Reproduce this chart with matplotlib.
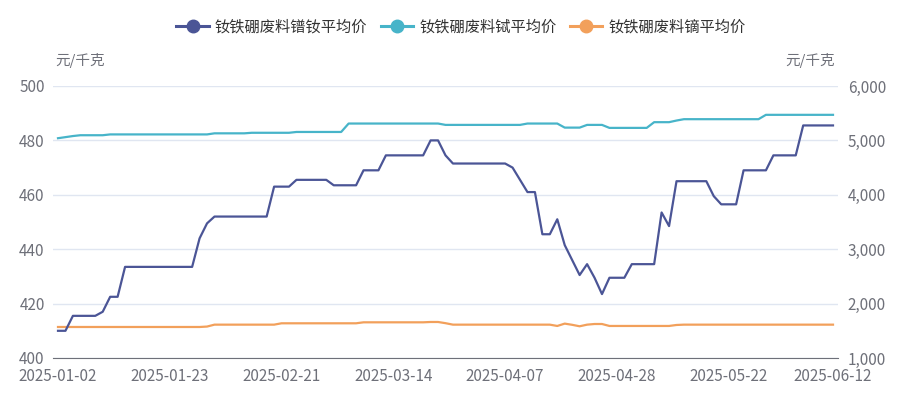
import pandas as pd
import matplotlib
matplotlib.use("Agg")
import matplotlib.pyplot as plt
from matplotlib.ticker import FuncFormatter, FixedLocator

plt.rcParams['font.family'] = ['Noto Sans CJK SC', 'DejaVu Sans']

# trading days 2025-01-02 .. 2025-06-12 (weekday holidays removed)
holidays = ["2025-01-28", "2025-01-29", "2025-01-30", "2025-01-31", "2025-02-03",
            "2025-02-04", "2025-04-04", "2025-05-01", "2025-05-02", "2025-05-05",
            "2025-06-02"]
days = pd.bdate_range("2025-01-02", "2025-06-12")
days = days[~days.isin(pd.to_datetime(holidays))]
dates = [d.strftime("%Y-%m-%d") for d in days]

# 钕铁硼废料镨钕平均价 (left axis)
prnd = [410, 410, 415.5, 415.5, 415.5, 415.5, 417, 422.5, 422.5, 433.5,
        433.5, 433.5, 433.5, 433.5, 433.5, 433.5, 433.5, 433.5, 433.5, 444,
        449.5, 452, 452, 452, 452, 452, 452, 452, 452, 463,
        463, 463, 465.5, 465.5, 465.5, 465.5, 465.5, 463.5, 463.5, 463.5,
        463.5, 469, 469, 469, 474.5, 474.5, 474.5, 474.5, 474.5, 474.5,
        480, 480, 474.5, 471.5, 471.5, 471.5, 471.5, 471.5, 471.5, 471.5,
        471.5, 470, 465.5, 461, 461, 445.5, 445.5, 451, 441.5, 436,
        430.5, 434.5, 429.5, 423.5, 429.5, 429.5, 429.5, 434.5, 434.5, 434.5,
        434.5, 453.5, 448.5, 465, 465, 465, 465, 465, 459.5, 456.5,
        456.5, 456.5, 469, 469, 469, 469, 474.5, 474.5, 474.5, 474.5,
        485.5, 485.5, 485.5, 485.5, 485.5]

# 钕铁硼废料铽平均价 (right axis)
tb = [5040, 5060, 5080, 5095, 5095, 5095, 5095, 5110, 5110, 5110,
      5110, 5110, 5110, 5110, 5110, 5110, 5110, 5110, 5110, 5110,
      5110, 5130, 5130, 5130, 5130, 5130, 5140, 5140, 5140, 5140,
      5140, 5140, 5155, 5155, 5155, 5155, 5155, 5155, 5155, 5310,
      5310, 5310, 5310, 5310, 5310, 5310, 5310, 5310, 5310, 5310,
      5310, 5310, 5285, 5285, 5285, 5285, 5285, 5285, 5285, 5285,
      5285, 5285, 5285, 5310, 5310, 5310, 5310, 5310, 5235, 5235,
      5235, 5285, 5285, 5285, 5230, 5230, 5230, 5230, 5230, 5230,
      5335, 5335, 5335, 5365, 5390, 5390, 5390, 5390, 5390, 5390,
      5390, 5390, 5390, 5390, 5390, 5470, 5470, 5470, 5470, 5470,
      5470, 5470, 5470, 5470, 5470]

# 钕铁硼废料镝平均价 (right axis)
dy = [1570, 1570, 1570, 1570, 1570, 1570, 1570, 1570, 1570, 1570,
      1570, 1570, 1570, 1570, 1570, 1570, 1570, 1570, 1570, 1570,
      1578, 1613, 1613, 1613, 1613, 1613, 1613, 1613, 1613, 1613,
      1638, 1638, 1638, 1638, 1638, 1638, 1638, 1638, 1638, 1638,
      1638, 1656, 1656, 1656, 1656, 1656, 1656, 1656, 1656, 1656,
      1662, 1662, 1640, 1613, 1613, 1613, 1613, 1613, 1613, 1613,
      1613, 1613, 1613, 1613, 1613, 1613, 1613, 1589, 1632, 1610,
      1583, 1613, 1625, 1625, 1589, 1589, 1589, 1589, 1589, 1589,
      1589, 1589, 1589, 1607, 1613, 1613, 1613, 1613, 1613, 1613,
      1613, 1613, 1613, 1613, 1613, 1613, 1613, 1613, 1613, 1613,
      1613, 1613, 1613, 1613, 1613]

names = ["钕铁硼废料镨钕平均价", "钕铁硼废料铽平均价", "钕铁硼废料镝平均价"]
colors = ["#4b5596", "#47b4c9", "#f2a05b"]
label_color = "#6e7079"

x = list(range(len(dates)))

fig = plt.figure(figsize=(9.22, 3.96), dpi=100)
ax = fig.add_axes([53 / 922, 38 / 396, 785 / 922, 272 / 396])
ax2 = ax.twinx()

l1, = ax.plot(x, prnd, color=colors[0], lw=1.6, zorder=3)
l2, = ax2.plot(x, tb, color=colors[1], lw=1.6, zorder=3)
l3, = ax2.plot(x, dy, color=colors[2], lw=1.6, zorder=3)

ax.set_zorder(ax2.get_zorder() + 1)
ax.patch.set_visible(False)

pad = 5 / 7.45
ax.set_xlim(-pad, len(dates) - 1 + pad)
ax.set_ylim(400, 500)
ax2.set_ylim(1000, 6000)
ax.set_yticks([400, 420, 440, 460, 480, 500])
ax2.set_yticks([1000, 2000, 3000, 4000, 5000, 6000])
ax2.yaxis.set_major_formatter(FuncFormatter(lambda v, p: f"{int(v):,}"))

tick_idx = [0, 15, 30, 45, 60, 75, 90, len(dates) - 1]
ax.xaxis.set_major_locator(FixedLocator(tick_idx))
ax.set_xticklabels([dates[i] for i in tick_idx])

ax.grid(axis="y", color="#e0e6f1", lw=1)
for a in (ax, ax2):
    for s in a.spines.values():
        s.set_visible(False)
    a.tick_params(length=0, labelsize=11, labelcolor=label_color)
ax.spines["bottom"].set_visible(True)
ax.spines["bottom"].set_color(label_color)
ax.tick_params(axis="y", pad=6)
ax2.tick_params(axis="y", pad=7)
ax.tick_params(axis="x", pad=7)

fig.text(80 / 922, 1 - 60 / 396, "元/千克", ha="center", va="center",
         fontsize=10.5, color=label_color)
fig.text(810 / 922, 1 - 60 / 396, "元/千克", ha="center", va="center",
         fontsize=10.5, color=label_color)

fig.legend([l1, l2, l3], names, loc="center", bbox_to_anchor=(0.5, 1 - 27 / 396),
           ncol=3, frameon=False, fontsize=11, handlelength=2.1, columnspacing=0.9,
           handletextpad=0.4, labelcolor="#333333")
for h in fig.legends[0].legend_handles:
    h.set_marker("o")
    h.set_markersize(9)
    h.set_linewidth(2.2)

fig.savefig("out.png", dpi=100)
